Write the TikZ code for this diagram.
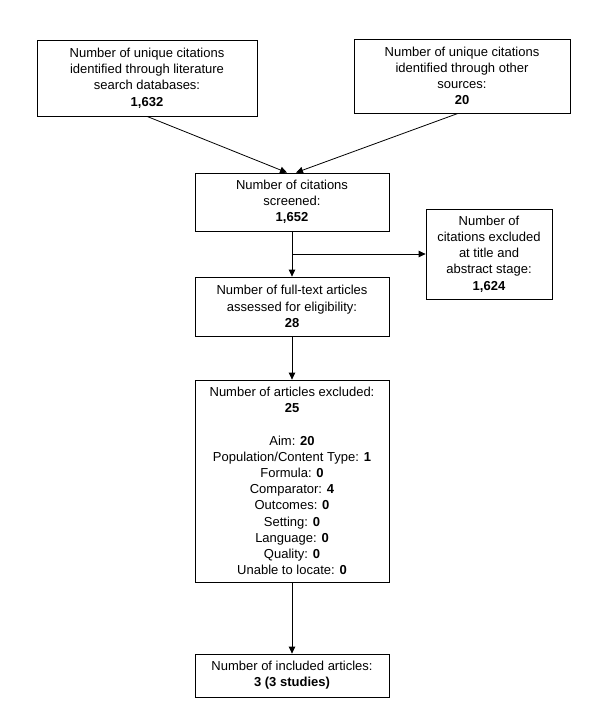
\documentclass[tikz,border=0pt]{standalone}
\usepackage{fontspec}
\setmainfont{Liberation Sans}
\usetikzlibrary{arrows.meta}
\begin{document}
\begin{tikzpicture}[x=1bp,y=-1bp,
  box/.style={draw,line width=0.8bp,align=center,inner sep=0pt,
    font=\fontsize{13bp}{16.2bp}\selectfont},
  conn/.style={line width=0.8bp,-{Triangle[length=7bp,width=6.5bp]}}]
\useasboundingbox (0,0) rectangle (593,720);
\node[box,minimum width=220bp,minimum height=76bp] (b1) at (147,78)
  {Number of unique citations\\identified through literature\\search databases:\\\textbf{1,632}};
\node[box,minimum width=216bp,minimum height=74bp] (b2) at (462,76)
  {Number of unique citations\\identified through other\\sources:\\\textbf{20}};
\node[box,minimum width=194bp,minimum height=58bp] (b3) at (292,202)
  {Number of citations\\screened:\\\textbf{1,652}};
\node[box,minimum width=126bp,minimum height=90bp] (b4) at (489,254)
  {Number of\\citations excluded\\at title and\\abstract stage:\\\textbf{1,624}};
\node[box,minimum width=194bp,minimum height=59bp] (b5) at (292,306.5)
  {Number of full-text articles\\assessed for eligibility:\\\textbf{28}};
\node[box,minimum width=194bp,minimum height=202bp] (b6) at (292,481)
  {Number of articles excluded:\\\textbf{25}\\[16.2bp]
   Aim: \textbf{20}\\Population/Content Type: \textbf{1}\\Formula: \textbf{0}\\
   Comparator: \textbf{4}\\Outcomes: \textbf{0}\\Setting: \textbf{0}\\
   Language: \textbf{0}\\Quality: \textbf{0}\\Unable to locate: \textbf{0}};
\node[box,minimum width=194bp,minimum height=43bp] (b7) at (292,675.5)
  {Number of included articles:\\\textbf{3 (3 studies)}};
\draw[conn] (b1.south) -- ([xshift=-5bp]b3.north);
\draw[conn] ([xshift=-4bp]b2.south) -- ([xshift=4bp]b3.north);
\coordinate (br) at (b3.south |- b4.west);
\draw[conn] (b3.south) -- (b5.north);
\draw[conn] (br) -- (b4.west);
\draw[conn] (b5.south) -- (b6.north);
\draw[conn] (b6.south) -- (b7.north);
\end{tikzpicture}
\end{document}
